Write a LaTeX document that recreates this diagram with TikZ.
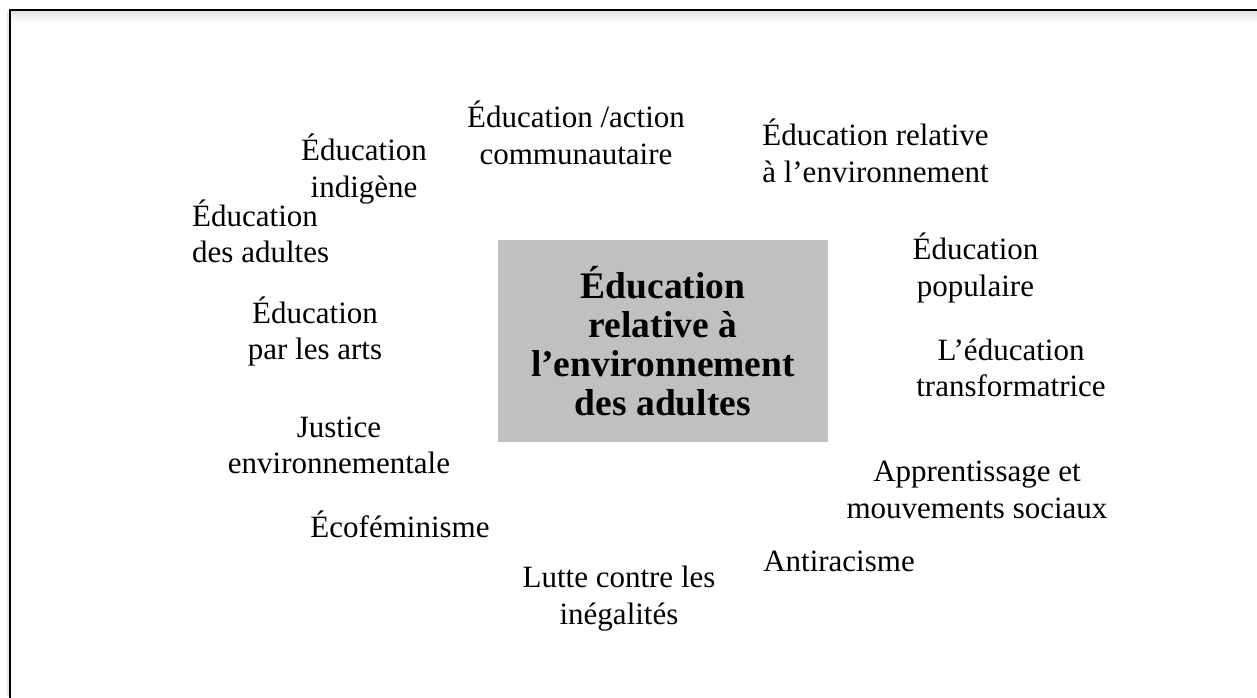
\documentclass[tikz,border=0pt]{standalone}
\usepackage{fontspec}
\setmainfont{Liberation Serif}
\definecolor{boxgray}{HTML}{C0C0C0}
\tikzset{
  lbl/.style={font=\fontsize{31}{36.5}\selectfont, align=center, inner sep=0pt, anchor=base},
  corebox/.style={fill=boxgray, draw=none, minimum width=330pt, minimum height=202pt, inner sep=0pt},
  coretext/.style={font=\fontsize{37.5}{39}\selectfont\bfseries, align=center, inner sep=0pt, anchor=base},
  frame/.style={line width=2pt, black}
}
\begin{document}
\begin{tikzpicture}[x=1pt,y=-1pt]
\useasboundingbox (0,0) rectangle (1257,697);
% frame with faint shadow
\shade[top color=black!12, bottom color=white] (11,11) rectangle (1257,22);
\fill[black!10] (7,11) rectangle (9,697);
\draw[frame] (10,700) -- (10,10) -- (1260,10);
% central box (text anchored at the baseline of its last line)
\node[corebox] (core) at (663,341) {};
\node[coretext] (coretxt) at (663,415.5) {Éducation\\relative à\\l’environnement\\des adultes};
% surrounding labels (anchored at the baseline of their last line)
\node[lbl] (indig) at (364,197) {Éducation\\indigène};
\node[lbl] (action) at (576,164) {Éducation /action\\communautaire};
\node[lbl] (ere) at (875.5,182.3) {Éducation relative\\à l’environnement};
\node[lbl, align=left, anchor=base west] (adult) at (192,262.7) {Éducation\\des adultes};
\node[lbl] (popul) at (975.5,296) {Éducation\\populaire};
\node[lbl] (arts) at (315,359.5) {Éducation\\par les arts};
\node[lbl] (transfo) at (1011,396.7) {L’éducation\\transformatrice};
\node[lbl] (justice) at (339,473.5) {Justice\\environnementale};
\node[lbl] (appr) at (977,518) {Apprentissage et\\mouvements sociaux};
\node[lbl] (ecofem) at (400,537.3) {Écoféminisme};
\node[lbl] (antir) at (839,571) {Antiracisme};
\node[lbl] (lutte) at (619,624) {Lutte contre les\\inégalités};
\end{tikzpicture}
\end{document}
